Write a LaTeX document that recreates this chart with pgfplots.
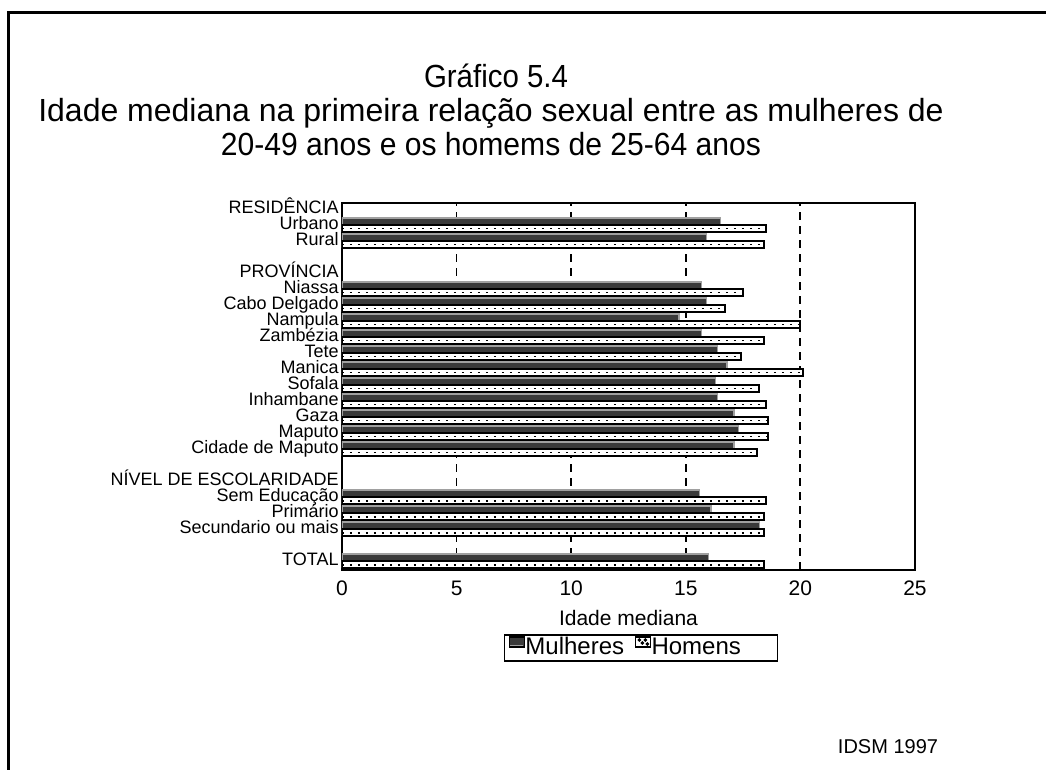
\documentclass[border=0pt]{standalone}
\usepackage{pgfplots}
\pgfplotsset{compat=1.18}
\usepackage{fontspec}
\setmainfont{Liberation Sans}
\definecolor{mdark}{HTML}{3A3A3A}
\definecolor{medge}{HTML}{A0A0A0}
\begin{document}
\begin{tikzpicture}
\useasboundingbox (-171pt,-100pt) rectangle (352pt,285pt);
\draw[line width=1.5pt] (-166.75pt,-100pt) -- (-166.75pt,278.75pt) -- (352pt,278.75pt);
\begin{axis}[
  at={(0pt,0pt)}, anchor=south west,
  scale only axis, width=286.5pt, height=183.5pt,
  xbar, xmin=0, xmax=25, ymin=-22.56, ymax=0.37,
  xtick={0,5,10,15,20,25},
  xmajorgrids, grid style={black, line width=0.9pt, dash pattern=on 4pt off 3pt},
  ytick={0,-1,-2,-4,-5,-6,-7,-8,-9,-10,-11,-12,-13,-14,-15,-17,-18,-19,-20,-22},
  yticklabels={RESIDÊNCIA,Urbano,Rural,PROVÍNCIA,Niassa,Cabo Delgado,Nampula,Zambézia,Tete,Manica,Sofala,Inhambane,Gaza,Maputo,Cidade de Maputo,NÍVEL DE ESCOLARIDADE,Sem Educação,Primário,Secundario ou mais,TOTAL},
  yticklabel style={font=\fontsize{9}{9}\selectfont, inner xsep=1.5pt, inner ysep=0pt, text height=6.2pt, text depth=1.6pt},
  xticklabel style={font=\fontsize{10.5}{10.5}\selectfont, yshift=-2pt},
  /pgf/number format/assume math mode=true,
  major tick length=0pt,
  axis line style={line width=0.8pt},
  xlabel={Idade mediana},
  xlabel style={font=\fontsize{10.5}{10.5}\selectfont, at={(axis description cs:0.5,-0.131)}, anchor=center},
  bar width=3.4pt,
  legend style={at={(0.522,-0.2125)}, anchor=center, legend columns=2, draw=black, line width=0.8pt,
    font=\fontsize{12}{12}\selectfont, inner xsep=2pt, inner ysep=0.5pt,
    nodes={text height=9pt, text depth=2.5pt, inner sep=0.3pt},
    /tikz/every even column/.append style={column sep=5pt}},
]
\addplot[fill=mdark, draw=medge, line width=0.6pt, bar shift=1.8pt,
  legend image code/.code={\draw[fill=mdark, draw=black, line width=0.6pt] (0pt,0.5pt) rectangle (7.5pt,5.5pt);
     \draw[medge, line width=0.6pt] (0.4pt,1.2pt) -- (7.1pt,1.2pt);}] coordinates {
 (16.5,-1) (15.9,-2)
 (15.7,-5) (15.9,-6) (14.7,-7) (15.7,-8) (16.4,-9) (16.8,-10) (16.3,-11) (16.4,-12) (17.1,-13) (17.3,-14) (17.1,-15)
 (15.6,-18) (16.1,-19) (18.2,-20)
 (16.0,-22)
};
\addlegendentry{Mulheres}
\addplot[fill=white, draw=black, line width=0.9pt, bar shift=-1.8pt,
  legend image code/.code={\draw[fill=white, draw=black, line width=0.6pt] (0pt,0.5pt) rectangle (7.5pt,5.5pt);
     \fill[black] (2pt,4pt) circle (0.35pt) (5pt,4pt) circle (0.35pt) (3.5pt,2.5pt) circle (0.35pt) (6pt,2pt) circle (0.35pt);}] coordinates {
 (18.5,-1) (18.4,-2)
 (17.5,-5) (16.7,-6) (20.0,-7) (18.4,-8) (17.4,-9) (20.1,-10) (18.2,-11) (18.5,-12) (18.6,-13) (18.6,-14) (18.1,-15)
 (18.5,-18) (18.4,-19) (18.4,-20)
 (18.4,-22)
};
\addlegendentry{Homens\kern16pt\null}
\addplot[xcomb, forget plot, yshift=-1.8pt, draw=black, line width=0.9pt, dash pattern=on 0.9pt off 3.1pt, mark=none] coordinates {
 (18.5,-1) (18.4,-2)
 (17.5,-5) (16.7,-6) (20.0,-7) (18.4,-8) (17.4,-9) (20.1,-10) (18.2,-11) (18.5,-12) (18.6,-13) (18.6,-14) (18.1,-15)
 (18.5,-18) (18.4,-19) (18.4,-20)
 (18.4,-22)
};
\end{axis}
\node[font=\fontsize{16}{16}\selectfont, anchor=base] at (77pt,241pt) {\scalebox{0.92}[1]{Gráfico 5.4}};
\node[font=\fontsize{16}{16}\selectfont, anchor=base] at (74.5pt,224pt) {Idade mediana na primeira relação sexual entre as mulheres de};
\node[font=\fontsize{16}{16}\selectfont, anchor=base] at (74.5pt,207pt) {\scalebox{0.94}[1]{20-49 anos e os homems de 25-64 anos}};
\node[font=\fontsize{10}{10}\selectfont] at (273pt,-88.5pt) {IDSM 1997};
\end{tikzpicture}
\end{document}
